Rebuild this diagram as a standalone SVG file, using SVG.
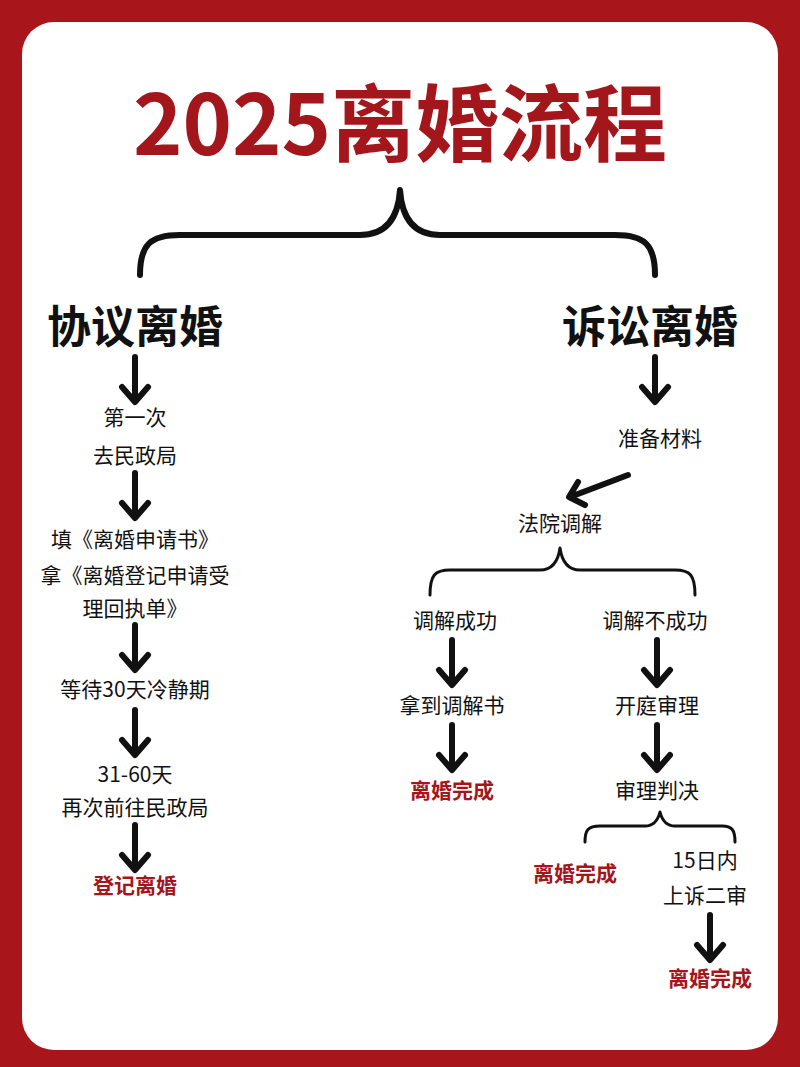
<svg xmlns="http://www.w3.org/2000/svg" width="800" height="1067" viewBox="0 0 800 1067">
<style>
.t{font-family:"Noto Sans CJK SC","Noto Sans",sans-serif;fill:#111;text-anchor:middle}
.s{font-size:21px}
.r{font-size:21px;font-weight:bold;fill:#a3161b}
.h{font-size:44px;font-weight:bold}
.ln{fill:none;stroke:#111;stroke-width:6;stroke-linecap:round;stroke-linejoin:round}
.br{fill:none;stroke:#111;stroke-width:3;stroke-linecap:round;stroke-linejoin:round}
</style>
<defs>
<g id="arr"><path class="ln" d="M0,0 V44 M-13,30 L0,45 L13,30"/></g>
</defs>
<rect width="800" height="1067" fill="#a8161c"/>
<rect x="22" y="22" width="756" height="1028" rx="32" fill="#fff"/>
<text class="t" x="400" y="155" style="font-size:84px;font-weight:bold;fill:#a3161b">2025离婚流程</text>
<g id="connectors">
<path class="ln" stroke-width="7" d="M140,275 C140,245 150,235 180,235 H360 C385,235 398,220 400,190 C402,220 415,235 440,235 H615 C645,235 655,245 655,275"/>
<use href="#arr" x="135" y="357"/>
<use href="#arr" x="135" y="473"/>
<use href="#arr" x="135" y="625"/>
<use href="#arr" x="135" y="710"/>
<use href="#arr" x="135" y="825"/>
<use href="#arr" x="655" y="357"/>
<path class="ln" d="M628,475 L570,497 M578,482 L569,497 L585,505"/>
<path class="br" d="M430,595 C430,575 435,570 450,570 H540 C552,570 558,562 560,548 C562,562 568,570 580,570 H675 C690,570 695,575 695,595"/>
<use href="#arr" x="452" y="640"/>
<use href="#arr" x="657" y="640"/>
<use href="#arr" x="452" y="725"/>
<use href="#arr" x="657" y="725"/>
<path class="br" d="M585,842 C585,830 588,826 600,826 H645 C654,826 658,820 660,812 C662,820 666,826 675,826 H722 C732,826 735,830 735,842"/>
<use href="#arr" x="710" y="915"/>
</g>
<g id="left">
<text class="t h" x="135" y="343">协议离婚</text>
<text class="t s" x="135" y="425">第一次</text>
<text class="t s" x="135" y="463">去民政局</text>
<text class="t s" x="135" y="547">填《离婚申请书》</text>
<text class="t s" x="135" y="583">拿《离婚登记申请受</text>
<text class="t s" x="135" y="616">理回执单》</text>
<text class="t s" x="135" y="697">等待30天冷静期</text>
<text class="t s" x="135" y="782">31-60天</text>
<text class="t s" x="135" y="815">再次前往民政局</text>
<text class="t r" x="135" y="893">登记离婚</text>
</g>
<g id="right">
<text class="t h" x="650" y="343">诉讼离婚</text>
<text class="t s" x="660" y="446">准备材料</text>
<text class="t s" x="560" y="531">法院调解</text>
<text class="t s" x="455" y="628">调解成功</text>
<text class="t s" x="655" y="628">调解不成功</text>
<text class="t s" x="452" y="713">拿到调解书</text>
<text class="t s" x="657" y="713">开庭审理</text>
<text class="t r" x="452" y="798">离婚完成</text>
<text class="t s" x="657" y="798">审理判决</text>
<text class="t r" x="575" y="881">离婚完成</text>
<text class="t s" x="705" y="868">15日内</text>
<text class="t s" x="705" y="903">上诉二审</text>
<text class="t r" x="710" y="986">离婚完成</text>
</g>
</svg>
